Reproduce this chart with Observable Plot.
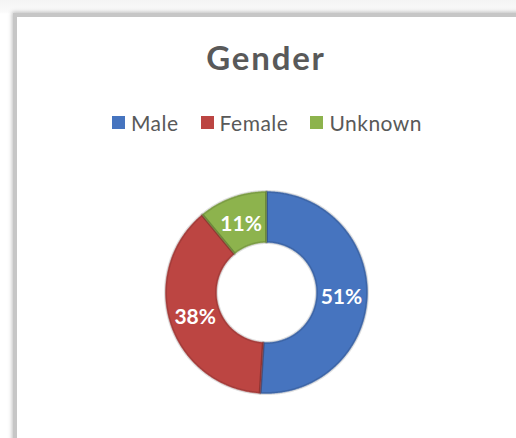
<!DOCTYPE html>
<html>
<head>
<meta charset="utf-8">
<script src="https://cdn.jsdelivr.net/npm/d3@7"></script>
<script src="https://cdn.jsdelivr.net/npm/@observablehq/plot@0.6"></script>
<style>
  html, body { margin: 0; padding: 0; }
  body { width: 516px; height: 438px; overflow: hidden; position: relative;
         background: linear-gradient(#f4f4f4, #fafafa 12px, #ffffff 14px); font-family: Lato, "Open Sans", sans-serif; }
  #frame { position: absolute; left: 13px; top: 13px; width: 520px; height: 440px;
           background: #fff; border-left: 4px solid #c6c6c6; border-top: 4px solid #c6c6c6;
           box-shadow: -1px -1px 4px rgba(0,0,0,0.25); }
  #title { position: absolute; left: 16px; width: 500px; top: 41px; text-align: center;
           font-family: Lato, sans-serif; font-weight: bold; font-size: 33px; letter-spacing: 1.8px; color: #595959; line-height: 1; }
  #legend { position: absolute; left: 17px; width: 500px; top: 110px; display: flex; justify-content: center; }
  div .gl-swatches { font-family: Lato, sans-serif; font-size: 21px; letter-spacing: 0.5px; color: #595959; margin: 0; min-height: 0; }
  div .gl-swatch { margin-right: 22px; }
  div .gl-swatch:last-child { margin-right: 0; }
  div .gl-swatch > svg { margin-right: 6px; }
  #chart { position: absolute; left: 156px; top: 182px; }
</style>
</head>
<body>
<div id="frame"></div>
<div id="title">Gender</div>
<div id="legend"></div>
<div id="chart"></div>
<script>
const categories = ["Male", "Female", "Unknown"];
const shares = [51, 38, 11];
const labels = ["51%", "38%", "11%"];
const colors = ["#4674bf", "#bc4542", "#8db34d"];
const title = "Gender";

const outerR = 1.01, innerR = 0.5, labelR = 0.75;
const rows = categories.map((c, i) => ({category: c, value: shares[i], label: labels[i]}));
const arcs = d3.pie().sort(null).value(d => d.value)(rows);

const pts = [];
const labelRows = [];
for (const a of arcs) {
  const n = Math.max(4, Math.ceil((a.endAngle - a.startAngle) / 0.01));
  for (let i = 0; i <= n; i++) {
    const t = a.startAngle + (a.endAngle - a.startAngle) * i / n;
    pts.push({category: a.data.category, x: outerR * Math.sin(t), y: outerR * Math.cos(t)});
  }
  for (let i = n; i >= 0; i--) {
    const t = a.startAngle + (a.endAngle - a.startAngle) * i / n;
    pts.push({category: a.data.category, x: innerR * Math.sin(t), y: innerR * Math.cos(t)});
  }
  const m = (a.startAngle + a.endAngle) / 2;
  labelRows.push({label: a.data.label, x: labelR * Math.sin(m), y: labelR * Math.cos(m)});
}

const plot = Plot.plot({
  width: 220, height: 220,
  margin: 0,
  x: {domain: [-1.1, 1.1], axis: null},
  y: {domain: [-1.1, 1.1], axis: null},
  color: {domain: categories, range: colors},
  style: {background: "transparent", overflow: "visible"},
  marks: [
    Plot.line(pts, {x: "x", y: "y", z: "category", fill: "category", stroke: "category", strokeWidth: 0.5, curve: "linear-closed"}),
    Plot.line(pts, {x: "x", y: "y", z: "category", stroke: "#000", strokeOpacity: 0.12, strokeWidth: 3, curve: "linear-closed"}),
    Plot.text(labelRows, {x: "x", y: "y", text: "label", fill: "white", fontSize: 21, fontWeight: "bold",
      fontFamily: "Lato, sans-serif", letterSpacing: 0.5, dy: 2})
  ]
});
document.getElementById("chart").appendChild(plot);
document.getElementById("title").textContent = title;

const legend = plot.legend("color", {swatchSize: 13, className: "gl"});
document.getElementById("legend").appendChild(legend);
</script>
</body>
</html>
